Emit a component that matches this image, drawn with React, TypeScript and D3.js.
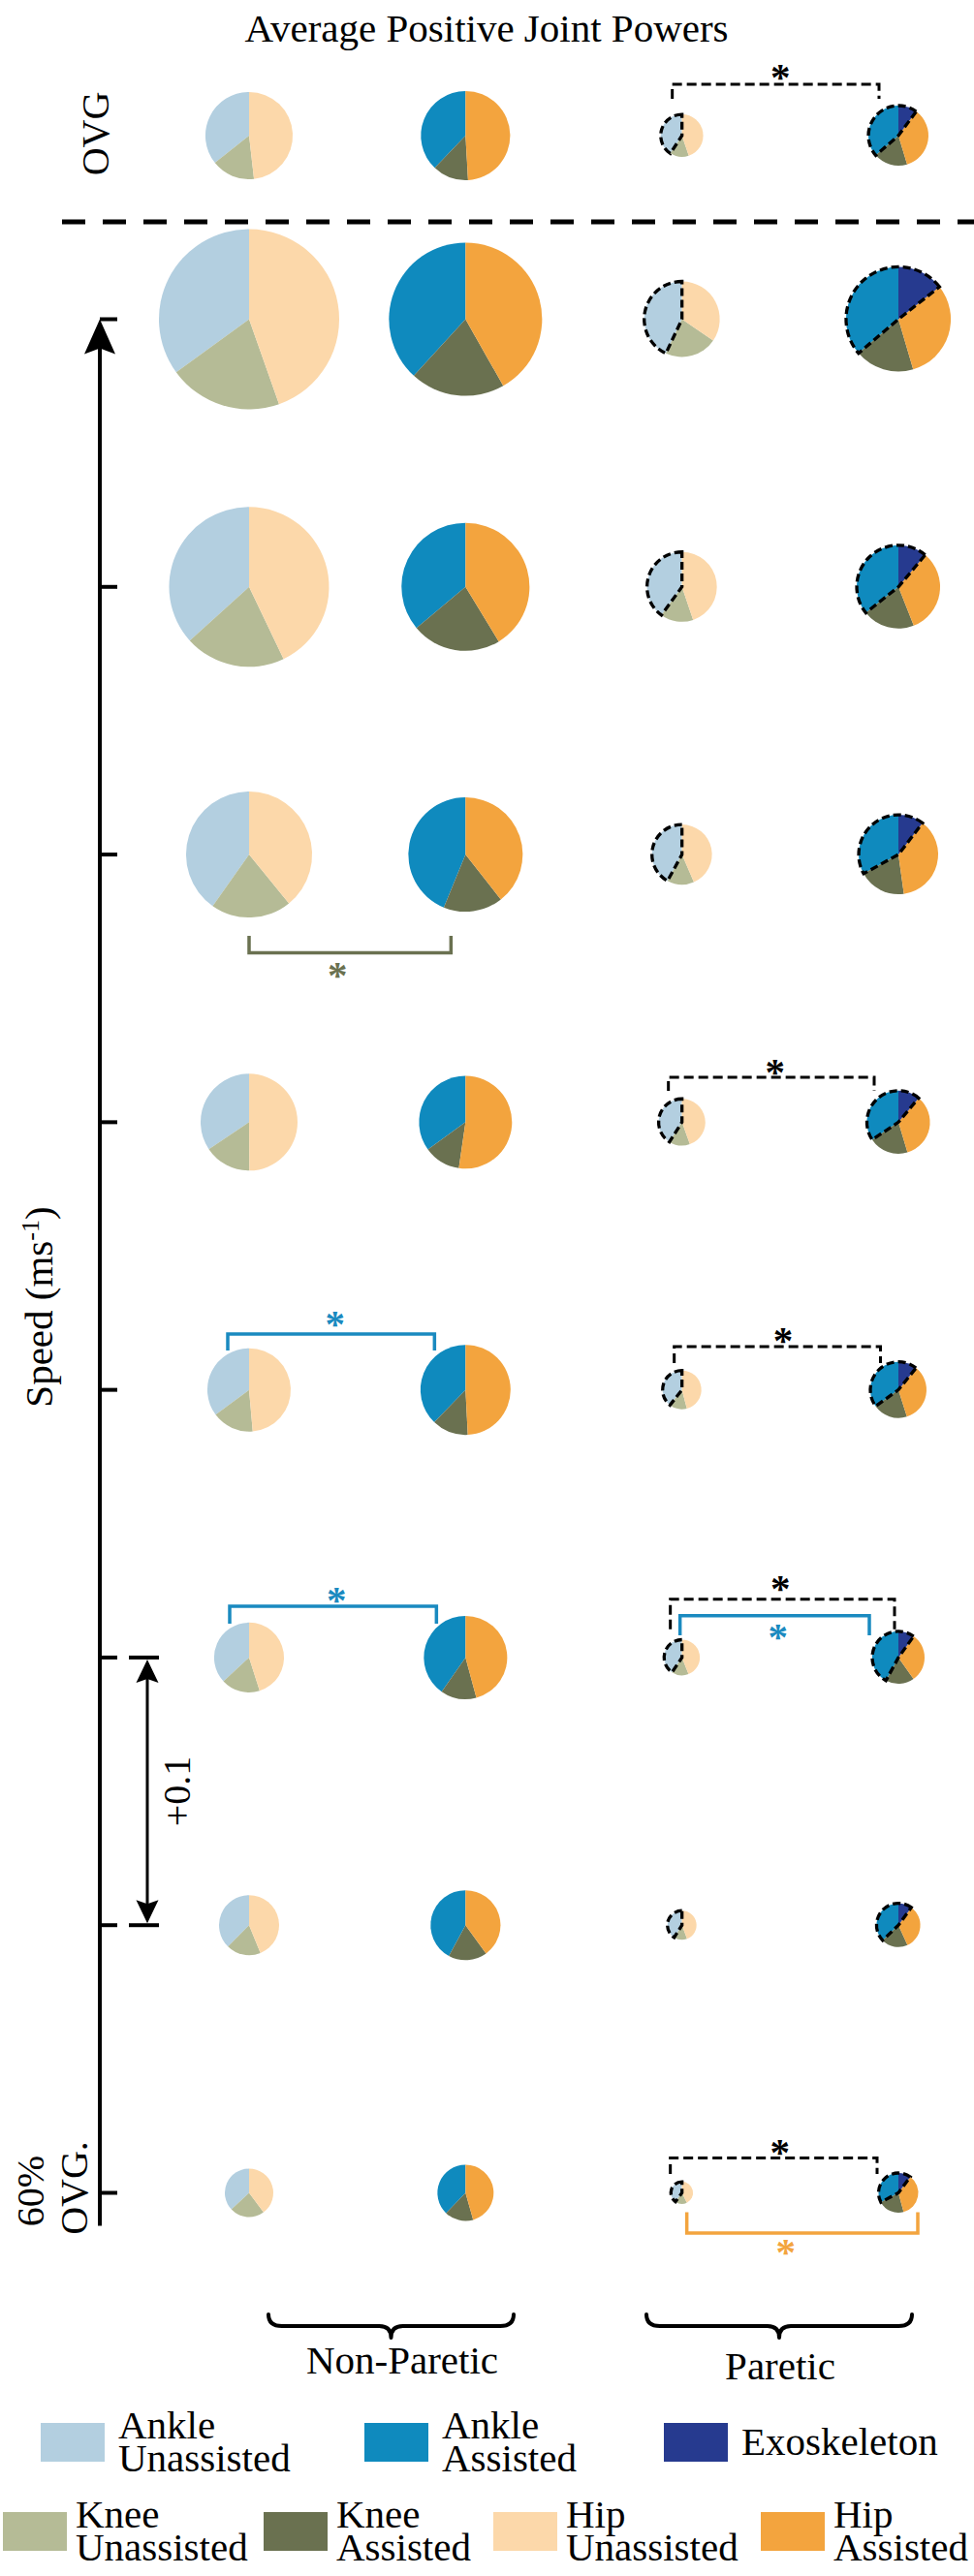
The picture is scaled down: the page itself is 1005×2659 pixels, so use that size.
import React, { useEffect, useRef } from 'react';
import * as d3 from 'd3';

const WIDTH = 1005;
const HEIGHT = 2659;
const FONT = '"Liberation Serif", "Times New Roman", serif';

// rows top to bottom: overground first, then treadmill speeds (m/s above 60% OVG)
const rowNames = ['OVG', '+0.7', '+0.6', '+0.5', '+0.4', '+0.3', '+0.2', '+0.1', '60% OVG'];
const speedSteps = [null, 0.7, 0.6, 0.5, 0.4, 0.3, 0.2, 0.1, 0.0];
const conditions = ['npUnassisted', 'npAssisted', 'pUnassisted', 'pAssisted'];

// total average positive power of each pie (sets pie area)
const npUnassistedTotal = [0.203, 0.865, 0.681, 0.423, 0.25, 0.185, 0.13, 0.096, 0.0625];
const npAssistedTotal = [0.212, 0.624, 0.436, 0.348, 0.23, 0.216, 0.185, 0.13, 0.084];
const pUnassistedTotal = [0.048, 0.152, 0.13, 0.096, 0.058, 0.04, 0.034, 0.0225, 0.013];
const pAssistedTotal = [0.096, 0.292, 0.185, 0.168, 0.106, 0.084, 0.073, 0.051, 0.042];

// joint shares [ankle, knee, hip]
const npUnassistedShare = [
    [0.357, 0.161, 0.482],
    [0.35, 0.204, 0.446],
    [0.367, 0.204, 0.429],
    [0.402, 0.207, 0.391],
    [0.344, 0.157, 0.499],
    [0.352, 0.162, 0.486],
    [0.369, 0.18, 0.451],
    [0.376, 0.186, 0.438],
    [0.37, 0.232, 0.398],
];
const npAssistedShare = [
    [0.379, 0.13, 0.491],
    [0.382, 0.2, 0.418],
    [0.361, 0.226, 0.413],
    [0.438, 0.168, 0.394],
    [0.35, 0.127, 0.523],
    [0.378, 0.13, 0.492],
    [0.403, 0.139, 0.458],
    [0.421, 0.179, 0.4],
    [0.378, 0.166, 0.456],
];
const pUnassistedShare = [
    [0.408, 0.144, 0.448],
    [0.43, 0.225, 0.345],
    [0.4, 0.152, 0.448],
    [0.42, 0.145, 0.435],
    [0.41, 0.145, 0.445],
    [0.394, 0.147, 0.459],
    [0.406, 0.154, 0.44],
    [0.41, 0.147, 0.443],
    [0.4, 0.174, 0.426],
];
// [ankle, knee, hip, exoskeleton]
const pAssistedShare = [
    [0.364, 0.183, 0.352, 0.101],
    [0.3625, 0.183, 0.311, 0.1435],
    [0.357, 0.203, 0.329, 0.111],
    [0.33, 0.192, 0.374, 0.104],
    [0.344, 0.2025, 0.3425, 0.111],
    [0.349, 0.2, 0.343, 0.108],
    [0.421, 0.177, 0.303, 0.099],
    [0.372, 0.196, 0.332, 0.1],
    [0.328, 0.214, 0.356, 0.102],
];

const colors = {
    ankleUn: '#b3cfe0',
    ankleAs: '#0f8abe',
    exo: '#263a8f',
    kneeUn: '#b5bb96',
    kneeAs: '#6a7150',
    hipUn: '#fcd8aa',
    hipAs: '#f3a43e',
};

const conditionColors = [
    [colors.ankleUn, colors.kneeUn, colors.hipUn],
    [colors.ankleAs, colors.kneeAs, colors.hipAs],
    [colors.ankleUn, colors.kneeUn, colors.hipUn],
    [colors.ankleAs, colors.kneeAs, colors.hipAs, colors.exo],
];

// significance brackets (row index, compared conditions)
const sigBrackets = [
    { row: 0, a: 2, b: 3, color: '#000', dashed: true, dx0: -10, dx1: -20, bar: -53, leg: -38, star: -67, starDx: 5 },
    { row: 3, a: 0, b: 1, color: colors.kneeAs, dashed: false, dx0: 0, dx1: -15, bar: 101.4, leg: 84, star: 118, starDx: -13 },
    { row: 4, a: 2, b: 3, color: '#000', dashed: true, dx0: -14, dx1: -25, bar: -46.4, leg: -32.4, star: -58.4, starDx: 4 },
    { row: 5, a: 0, b: 1, color: '#1a8ac0', dashed: false, dx0: -22, dx1: -32, bar: -57.7, leg: -40.7, star: -74.7, starDx: 4 },
    { row: 5, a: 2, b: 3, color: '#000', dashed: true, dx0: -8, dx1: -18.5, bar: -44.7, leg: -27.7, star: -57.7, starDx: 6 },
    { row: 6, a: 0, b: 1, color: '#1a8ac0', dashed: false, dx0: -20, dx1: -30, bar: -53, leg: -35, star: -66, starDx: 3.5 },
    { row: 6, a: 2, b: 3, color: '#000', dashed: true, dx0: -12, dx1: -4, bar: -60.3, leg: -29.3, star: -77.7, starDx: -2 },
    { row: 6, a: 2, b: 3, color: '#1a8ac0', dashed: false, dx0: -2, dx1: -30, bar: -43.3, leg: -23, star: -27.7, starDx: 3.5 },
    { row: 8, a: 2, b: 3, color: '#000', dashed: true, dx0: -12, dx1: -22, bar: -36, leg: -19.5, star: -48.5, starDx: 6.5 },
    { row: 8, a: 2, b: 3, color: colors.hipAs, dashed: false, dx0: 5, dx1: 20, bar: 41.5, leg: 20, star: 54.5, starDx: -17 },
];

const legendRows = [
    [
        { label: ['Ankle', 'Unassisted'], color: colors.ankleUn },
        { label: ['Ankle', 'Assisted'], color: colors.ankleAs },
        { label: ['Exoskeleton'], color: colors.exo },
    ],
    [
        { label: ['Knee', 'Unassisted'], color: colors.kneeUn },
        { label: ['Knee', 'Assisted'], color: colors.kneeAs },
        { label: ['Hip', 'Unassisted'], color: colors.hipUn },
        { label: ['Hip', 'Assisted'], color: colors.hipAs },
    ],
];
const legendX = [[42, 376, 685], [3, 272, 509, 785]];
const legendTop = [2501, 2593];

const sideGroups = [
    { label: 'Non-Paretic', x0: 277, x1: 530, textX: 415, textY: 2450 },
    { label: 'Paretic', x0: 667, x1: 941, textX: 805, textY: 2456 },
];

const App = () => {
    const ref = useRef(null);

    useEffect(() => {
        document.body.style.margin = '0';
        drawChart();
    }, []);

    function drawChart() {
        const svg = d3.select(ref.current);
        svg.selectAll('*').remove();

        const x = d3.scalePoint().domain(conditions).range([257, 927]);
        const speedY = d3.scaleLinear().domain([0, 0.7]).range([2263.5, 329.5]);
        const rowY = (i) => (speedSteps[i] === null ? 140 : speedY(speedSteps[i]));
        const radius = d3.scaleSqrt().domain([0, 1]).range([0, 100]);

        const totals = [npUnassistedTotal, npAssistedTotal, pUnassistedTotal, pAssistedTotal];
        const shares = [npUnassistedShare, npAssistedShare, pUnassistedShare, pAssistedShare];

        const pie = d3.pie().sort(null).value((d) => d)
            .startAngle(0).endAngle(-2 * Math.PI);
        const TAU = 2 * Math.PI;

        // title
        svg.append('text')
            .attr('x', 502).attr('y', 43)
            .attr('text-anchor', 'middle')
            .style('font-family', FONT).style('font-size', '41px')
            .text('Average Positive Joint Powers');

        // separator between overground and treadmill rows
        svg.append('line')
            .attr('x1', 64).attr('x2', WIDTH)
            .attr('y1', 229).attr('y2', 229)
            .attr('stroke', '#000').attr('stroke-width', 5)
            .attr('stroke-dasharray', '24 18');

        // pies
        rowNames.forEach((row, i) => {
            conditions.forEach((c, j) => {
                const r = radius(totals[j][i]);
                const g = svg.append('g')
                    .attr('transform', `translate(${x(c)}, ${rowY(i)})`);
                const arc = d3.arc().innerRadius(0).outerRadius(r);
                g.selectAll('path.slice')
                    .data(pie(shares[j][i]))
                    .enter()
                    .append('path')
                    .attr('class', 'slice')
                    .attr('d', arc)
                    .style('fill', (d, k) => conditionColors[j][k]);

                // dashed outline around paretic ankle (incl. exoskeleton)
                if (j >= 2) {
                    const s = shares[j][i];
                    const exo = s.length > 3 ? s[3] : 0;
                    g.append('path')
                        .attr('d', arc({ startAngle: exo * TAU, endAngle: -s[0] * TAU }))
                        .attr('fill', 'none')
                        .attr('stroke', '#000')
                        .attr('stroke-width', 3.3)
                        .attr('stroke-dasharray', '8 4');
                }
            });
        });

        // significance brackets
        sigBrackets.forEach((b) => {
            const y0 = rowY(b.row);
            const xa = x(conditions[b.a]) + b.dx0;
            const xb = x(conditions[b.b]) + b.dx1;
            svg.append('path')
                .attr('d', `M${xa},${y0 + b.leg} L${xa},${y0 + b.bar} L${xb},${y0 + b.bar} L${xb},${y0 + b.leg}`)
                .attr('fill', 'none')
                .attr('stroke', b.color)
                .attr('stroke-width', b.dashed ? 3 : 3.5)
                .attr('stroke-dasharray', b.dashed ? '10 5' : null);
            svg.append('text')
                .attr('x', (xa + xb) / 2 + b.starDx)
                .attr('y', y0 + b.star + 20)
                .attr('text-anchor', 'middle')
                .style('font-family', FONT).style('font-size', '41px')
                .style('font-weight', 'bold')
                .style('fill', b.color)
                .text('*');
        });

        // speed axis
        const axisX = 103;
        svg.append('line')
            .attr('x1', axisX).attr('x2', axisX)
            .attr('y1', speedY(0.7) + 20).attr('y2', speedY(0) + 34)
            .attr('stroke', '#000').attr('stroke-width', 4);
        const top = speedY(0.7);
        svg.append('path')
            .attr('d', `M${axisX},${top} L${axisX + 16},${top + 36} L${axisX},${top + 30} L${axisX - 16},${top + 36} Z`)
            .attr('fill', '#000');
        svg.selectAll('line.tick')
            .data(speedSteps.filter((s) => s !== null))
            .enter()
            .append('line')
            .attr('class', 'tick')
            .attr('x1', axisX).attr('x2', axisX + 18)
            .attr('y1', (d) => speedY(d)).attr('y2', (d) => speedY(d))
            .attr('stroke', '#000').attr('stroke-width', 4);

        // +0.1 interval marker
        const ia = speedY(0.2);
        const ib = speedY(0.1);
        const ix = 152;
        [ia, ib].forEach((yy) => {
            svg.append('line')
                .attr('x1', 133).attr('x2', 164)
                .attr('y1', yy).attr('y2', yy)
                .attr('stroke', '#000').attr('stroke-width', 4);
        });
        svg.append('line')
            .attr('x1', ix).attr('x2', ix)
            .attr('y1', ia + 15).attr('y2', ib - 15)
            .attr('stroke', '#000').attr('stroke-width', 3);
        svg.append('path')
            .attr('d', `M${ix},${ia + 2} L${ix + 11.5},${ia + 26} L${ix},${ia + 22} L${ix - 11.5},${ia + 26} Z`)
            .attr('fill', '#000');
        svg.append('path')
            .attr('d', `M${ix},${ib - 2} L${ix + 11.5},${ib - 26} L${ix},${ib - 22} L${ix - 11.5},${ib - 26} Z`)
            .attr('fill', '#000');
        svg.append('text')
            .attr('transform', `translate(196, ${(ia + ib) / 2}) rotate(-90)`)
            .attr('text-anchor', 'middle')
            .style('font-family', FONT).style('font-size', '40px')
            .text('+0.1');

        // axis labels
        svg.append('text')
            .attr('transform', `translate(112, 138) rotate(-90)`)
            .attr('text-anchor', 'middle')
            .style('font-family', FONT).style('font-size', '40px')
            .text('OVG');
        const speedLabel = svg.append('text')
            .attr('transform', `translate(54, 1349) rotate(-90)`)
            .attr('text-anchor', 'middle')
            .style('font-family', FONT).style('font-size', '41px');
        speedLabel.append('tspan').text('Speed (ms');
        speedLabel.append('tspan').attr('dy', -14).style('font-size', '26px').text('-1');
        speedLabel.append('tspan').attr('dy', 14).text(')');
        svg.append('text')
            .attr('transform', `translate(45, ${speedY(0) - 2}) rotate(-90)`)
            .attr('text-anchor', 'middle')
            .style('font-family', FONT).style('font-size', '40px')
            .text('60%');
        svg.append('text')
            .attr('transform', `translate(89.5, ${speedY(0) - 5}) rotate(-90)`)
            .attr('text-anchor', 'middle')
            .style('font-family', FONT).style('font-size', '40px')
            .text('OVG.');

        // braces for limb sides
        sideGroups.forEach((s) => {
            const y0 = 2389;
            const y1 = 2401;
            const y2 = 2413;
            const xm = (s.x0 + s.x1) / 2;
            const d = `M${s.x0},${y0} Q${s.x0},${y1} ${s.x0 + 14},${y1} L${xm - 12},${y1} Q${xm},${y1} ${xm},${y2}`
                + ` M${s.x1},${y0} Q${s.x1},${y1} ${s.x1 - 14},${y1} L${xm + 12},${y1} Q${xm},${y1} ${xm},${y2}`;
            svg.append('path')
                .attr('d', d)
                .attr('fill', 'none')
                .attr('stroke', '#000')
                .attr('stroke-width', 4)
                .attr('stroke-linecap', 'round');
            svg.append('text')
                .attr('x', s.textX).attr('y', s.textY)
                .attr('text-anchor', 'middle')
                .style('font-family', FONT).style('font-size', '41px')
                .text(s.label);
        });

        // legend
        legendRows.forEach((items, r) => {
            const topY = legendTop[r];
            items.forEach((item, k) => {
                const lx = legendX[r][k];
                svg.append('rect')
                    .attr('x', lx).attr('y', topY)
                    .attr('width', 66).attr('height', 40)
                    .attr('fill', item.color);
                const t = svg.append('text')
                    .attr('x', lx + (r === 0 ? 80 : 75))
                    .style('font-family', FONT).style('font-size', '41px');
                if (item.label.length === 1) {
                    t.attr('y', topY + 33).text(item.label[0]);
                } else {
                    t.attr('y', topY + 16).text(item.label[0]);
                    svg.append('text')
                        .attr('x', lx + (r === 0 ? 80 : 75))
                        .attr('y', topY + 50)
                        .style('font-family', FONT).style('font-size', '41px')
                        .text(item.label[1]);
                }
            });
        });
    }

    return (
        <svg ref={ref} width={WIDTH} height={HEIGHT} style={{ display: 'block', background: '#fff' }} />
    );
};

export default App;
